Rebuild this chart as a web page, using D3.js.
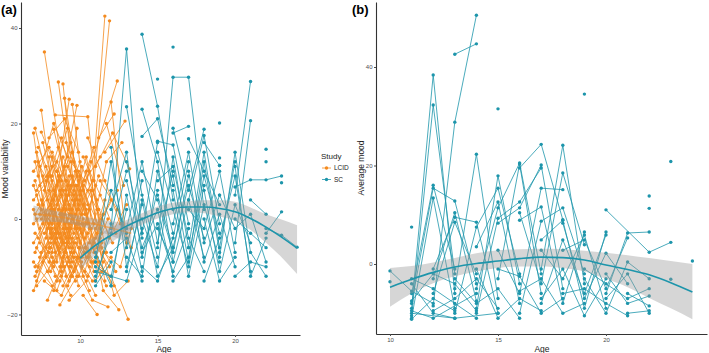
<!DOCTYPE html>
<html lang="en">
<head>
<meta charset="utf-8">
<title>mood by age</title>
<script src="https://cdn.jsdelivr.net/npm/d3@7"></script>
<style>
  body{margin:0;background:#fff;font-family:"Liberation Sans",Arial,sans-serif;}
  .tick text{fill:#4d4d4d;font-size:6px;}
  .tick line{stroke:#4d4d4d;}
  .domain{stroke:#333;stroke-width:1.1;}
</style>
</head>
<body>
<div id="chart"></div>
<script>
// ---- data: each track = one participant, [age, value] ----
var lcidTracks = [
  [[10.9,8],[11.9,41.5]], [[10.6,-2],[11.6,42.5]], [[7.7,35],[9.3,2]], [[8.6,28.7],[9.6,5]],
  [[8.9,28.3],[10.0,-6]], [[9.8,2],[12.4,28.9]], [[9.0,25.3],[10.2,0]], [[8.3,4],[9.3,25.1]],
  [[7.5,22.8],[8.6,-3]], [[9.5,24],[10.5,-1]], [[8.8,8],[9.8,23.8]], [[8.4,21.8],[10.5,21.4],[11.3,-4]],
  [[7.1,19],[8.2,4]], [[7.0,18],[8.0,-6]], [[7.5,18.2],[8.5,10],[9.6,-3]], [[8.3,18.8],[9.3,5]],
  [[7.2,14],[8.1,2],[9.2,-8]], [[7.3,12],[8.4,-2]], [[7.0,10],[8.0,15],[9.1,6]], [[7.1,8],[8.2,-4],[9.3,3]],
  [[7.4,7],[8.5,12]], [[7.2,5],[8.3,-9],[9.4,-2]], [[7.0,4],[8.1,9]], [[7.3,3],[8.2,-1],[9.2,11]],
  [[7.1,1],[8.0,6],[9.0,-5]], [[7.2,0],[8.4,-12]], [[7.0,-1],[8.1,3],[9.3,-6]], [[7.4,-2],[8.5,7],[9.5,14]],
  [[7.1,-3],[8.2,-8]], [[7.3,-4],[8.3,2],[9.4,-10]], [[7.0,-5],[8.0,1],[9.1,8]], [[7.2,-6],[8.1,-11],[9.2,0]],
  [[7.1,-7],[8.3,4]], [[7.4,-8],[8.4,-3],[9.6,6]], [[7.0,-9],[8.2,-14]], [[7.3,-10],[8.5,-4],[9.5,-12]],
  [[7.1,-12],[8.0,-7]], [[7.2,-14],[8.3,-9],[9.4,-16]], [[7.0,-15],[8.1,-5]], [[7.9,-17],[8.8,-10]],
  [[7.6,16],[8.7,1],[9.8,9]], [[7.8,11],[8.9,-5],[9.9,2]], [[7.7,6],[8.8,17],[9.9,3]], [[7.5,2],[8.6,-6],[9.7,-13]],
  [[7.6,-1],[8.7,9],[9.8,-2]], [[7.8,-4],[8.9,13],[10.0,5]], [[7.5,-7],[8.6,-1],[9.7,10]], [[7.9,-11],[9.0,-3],[10.1,-9]],
  [[7.7,-13],[8.8,-16],[9.9,-8]], [[8.0,13],[9.1,-4],[10.2,7]], [[8.2,9],[9.2,19],[10.3,1]], [[8.1,-2],[9.3,-9],[10.4,-1]],
  [[8.4,5],[9.5,0],[10.6,-10]], [[8.6,15],[9.6,3],[10.7,12]], [[8.5,-13],[9.6,-7],[10.6,-15]], [[8.8,1],[9.9,-12],[11.0,-4]],
  [[8.9,-8],[10.0,4],[11.1,-6]], [[9.0,11],[10.1,-3],[11.2,9]], [[9.1,16],[10.2,6],[11.3,-2]], [[9.2,-14],[10.3,-6],[11.4,-11]],
  [[9.4,7],[10.5,-8],[11.5,1]], [[9.5,-4],[10.6,10],[11.7,-7]], [[9.6,12],[10.7,-2]], [[9.7,-10],[10.8,-17],[11.8,-18.4]],
  [[9.8,4],[10.9,15]], [[9.9,-6],[11.0,-13],[12.0,-8]], [[10.0,9],[11.1,2],[12.1,-5]], [[10.1,-1],[11.2,-9],[12.2,-14]],
  [[10.2,13],[11.3,5],[12.3,-3]], [[10.3,-11],[11.4,0],[12.4,6]], [[10.4,2],[11.5,-15],[12.5,-19]], [[10.5,17],[11.6,8],[12.6,-1]],
  [[10.6,-5],[11.7,12],[12.7,16]], [[10.8,6],[11.9,-4],[13.0,3]], [[10.9,-9],[12.0,-12],[13.1,-21]], [[11.0,11],[12.1,18],[13.2,10.5]],
  [[11.1,-3],[12.2,-16],[13.1,-13]], [[11.3,8],[12.4,2],[13.3,-6]], [[11.5,-7],[12.6,-10],[13.3,-2]], [[11.6,14],[12.9,20.5]],
  [[11.7,20],[12.8,7]], [[12.0,24.5],[13.0,-5]], [[11.2,17],[12.2,22]], [[7.3,9],[8.3,20],[9.2,13]],
  [[8.0,17],[9.0,21],[9.9,14]], [[8.7,-18],[9.8,-12]], [[10.2,-16],[11.1,-20]], [[9.3,-17],[10.4,-13]],
  [[7.2,6],[8.2,11],[9.1,2]], [[7.4,-5],[8.3,-10],[9.3,-1]], [[7.6,3],[8.6,8],[9.6,-7]], [[7.8,8],[8.7,-7],[9.8,-4]],
  [[8.1,-4],[9.1,4],[10.0,12]], [[8.3,0],[9.4,-12],[10.5,-3]], [[8.5,3],[9.5,9],[10.4,-6]], [[8.7,-10],[9.7,1],[10.8,8]],
  [[8.9,6],[9.9,-1],[10.9,-11]], [[9.1,-7],[10.1,11],[11.1,4]], [[9.3,1],[10.3,-4],[11.2,2]], [[9.5,14],[10.5,3],[11.5,-9]],
  [[9.7,-2],[10.7,6],[11.6,-13]], [[9.9,8],[10.9,-7],[11.8,0]], [[10.1,-8],[11.0,-2],[12.0,4]], [[10.4,10],[11.4,-6],[12.3,-11]],
  [[7.1,12],[8.1,-3],[9.0,-10]], [[7.5,0],[8.4,5],[9.4,16]], [[7.9,4],[8.9,-2],[9.8,19]], [[8.2,-7],[9.2,7],[10.2,-12]],
  [[7.0,7],[7.9,-2],[8.8,5]], [[7.2,-11],[8.0,-1],[8.9,-9]], [[7.4,11],[8.3,6],[9.3,-4]], [[7.6,-9],[8.5,-15],[9.4,-7]],
  [[7.8,1],[8.7,-4],[9.7,4]], [[8.0,-9],[8.9,2],[9.9,-14]], [[8.2,14],[9.1,8],[10.1,1]], [[8.4,-5],[9.3,-13],[10.3,-7]],
  [[8.6,9],[9.5,-6],[10.5,6]], [[8.8,-12],[9.7,-5],[10.7,-9]], [[9.0,3],[9.9,10],[10.9,-1]], [[9.2,-2],[10.1,-10],[11.0,-16]],
  [[9.4,12],[10.3,8],[11.3,13]], [[9.6,-8],[10.5,-12],[11.4,-5]], [[9.8,-1],[10.8,-9],[11.7,-14]], [[10.0,6],[10.9,-5],[11.9,-10]],
  [[7.1,-10],[8.1,-6],[9.0,1]], [[7.3,15],[8.2,8],[9.1,-2]], [[7.5,4],[8.4,-7],[9.3,9]], [[7.7,-3],[8.6,2],[9.5,-9]],
  [[7.9,9],[8.8,-11],[9.8,7]], [[8.1,3],[9.0,-7],[10.0,-2]], [[8.3,-15],[9.2,-5],[10.2,3]], [[8.5,10],[9.4,1],[10.4,-8]],
  [[8.7,-3],[9.6,-11],[10.6,2]], [[8.9,-14],[9.8,-8],[10.8,-13]], [[9.1,5],[10.0,-5],[11.0,7]], [[9.3,-10],[10.2,-1],[11.1,-8]],
  [[9.5,2],[10.4,13],[11.4,-3]], [[9.7,7],[10.6,-7],[11.6,4]], [[7.0,2],[7.8,-8],[8.7,-13]], [[7.2,-13],[8.2,-2],[9.1,-12]],
  [[7.4,1],[8.2,13],[9.0,-1]], [[7.6,9],[8.5,-9],[9.5,4]], [[7.8,-6],[8.7,6],[9.6,-5]]
];

var scTracksA = [
  [[12,-2],[13,35.6],[14,-4]], [[14,38.7],[15,23.6],[16,4]], [[15,-6],[16,29.7],[17,29.7],[18,2]], [[16,36]],
  [[15,29.3]], [[20,5],[21,28.8]], [[20,-5],[21,20.6]], [[19,20.1]], [[19,12.8]], [[19,11.2]],
  [[22,14.6]], [[22,12]], [[20,6.7],[21,8.2],[22,8.2],[23,9]], [[23,7.6]], [[22,-3],[23,1.5]],
  [[22,-2],[23,-3.4],[24,-5.9]], [[13,23.5],[14,5],[15,-8]], [[14,23],[15,12],[16,-9]], [[14,17.3],[15,21],[16,7]],
  [[15,16.3],[16,15.5],[17,-1]], [[16,18],[17,19.4]], [[17,16.8],[18,10],[19,3]], [[16,19],[17,6],[18,18.8]],
  [[17,4],[18,17.5],[19,-1]], [[18,16],[19,11.2]],
  [[11,-8],[12,6],[13,-3]], [[11,-10],[12,-12],[13,2]], [[11,-12],[12,-3],[13,10]], [[11,-14],[12,-9]],
  [[11,-9],[12,12],[13,-6],[14,8]], [[11,-11],[13,-13],[14,-2]], [[12,15],[13,-10],[14,3]], [[12,-14],[13,5],[14,-11]],
  [[12,2],[13,14],[14,-8],[15,6]], [[13,-2],[14,12],[15,-5],[16,10]], [[13,8],[14,-6],[15,2],[16,-12]],
  [[13,-8],[14,-12],[15,10],[16,-3]], [[14,0],[15,-10],[16,13],[17,-6]], [[14,10],[15,4],[16,-7],[17,9]],
  [[14,-10],[15,-13],[16,-4],[17,12]], [[15,14],[16,2],[17,-10],[18,7]], [[15,-2],[16,-9],[17,4],[18,-8]],
  [[15,8],[16,11],[17,-4],[18,-11]], [[16,-1],[17,14],[18,-5],[19,5]], [[16,6],[17,-12],[18,3],[19,-9]],
  [[16,-13],[17,-8],[18,9],[19,-3]], [[17,2],[18,-2],[19,10],[20,-7]], [[17,-6],[18,14],[19,-6],[20,12]],
  [[17,10],[18,-9],[19,1],[20,-10]], [[18,6],[19,-11],[20,3],[21,-5]], [[18,-13],[19,-4],[20,9],[21,-11]],
  [[19,5],[20,-2],[21,1],[22,-9]], [[19,-8],[20,14],[21,-7],[22,-12]], [[20,0],[21,-3],[22,-6]],
  [[20,-12],[21,-9],[22,-10]], [[20,11],[21,-12],[22,-4]], [[21,4],[22,1]], [[13,-11],[14,4],[15,-12],[16,-6]],
  [[13,12],[14,-3],[15,16]], [[14,-7],[15,-1],[16,-11],[17,-2]], [[15,5],[16,-6],[17,7],[18,-4]],
  [[18,0],[19,-13],[20,-8]], [[16,9],[17,-9],[18,12],[19,-7]], [[12,-7],[13,-4],[14,-13]], [[11,-13],[12,-1]], [[11,-7],[12,-14]]
];

var scTracksB = [
  [[10,-1.4],[11,-5.5],[12,-8]], [[10,-3.6]], [[11,7.5]], [[11,-9],[12,38.4],[13,-6]], [[11,-10.5],[12,32.3],[13,-2]],
  [[13,42.6],[14,44.7]], [[12,-8.5],[13,28.8],[14,50.5]], [[13,-5],[14,22.3],[15,-7]], [[15,31.5]],
  [[14,-9],[15,17.9],[16,-4]], [[15,-3],[16,20.3],[17,-6]], [[16,19.5],[17,24.3],[18,9]], [[17,-1],[18,24.1],[19,-4]],
  [[19,34.5]], [[23,20.8]], [[20,11],[22,2.4],[23,4.4]], [[22,13.8]], [[22,11.3]], [[20,-6],[21,6.3],[22,6.5]],
  [[23,-3.1]], [[24,0.6]], [[11,-6],[12,16],[13,-1]], [[11,-8],[12,15.4],[13,12.8],[14,-4]], [[11,-11],[12,13.4],[13,-9]],
  [[12,-3],[13,10.4],[14,-7.5]], [[12,-1],[13,9.5],[14,8.5],[15,-10]], [[12,-6],[13,8.5],[14,-2]],
  [[13,-10],[14,7.5],[15,15.4],[16,-2]], [[14,3.5],[15,12.6],[16,-8]], [[14,-5],[15,11.4],[16,20.5],[17,-2]],
  [[14,-10],[15,9.3],[16,12.6],[17,19.5]], [[15,8.3],[16,11.4],[17,20.1],[18,-5]], [[15,2.8],[16,-6],[17,15.4],[18,15.1]],
  [[16,10.4],[17,-4],[18,18.5],[19,3.9]], [[16,8.9],[17,11.6],[18,-8],[19,6.5]], [[16,-10],[17,8.7],[18,11.4],[19,-2]],
  [[17,4.9],[18,8.9],[19,-9],[20,6.5]], [[17,2.8],[18,-3],[19,5.9],[20,-9]], [[17,-8],[18,4.9],[19,-6],[20,5.9]],
  [[18,2.8],[19,4.9],[20,-5],[21,5.3]], [[18,8.3],[19,-7],[20,2.2],[21,-4]], [[19,-3],[20,-10],[21,0.4],[22,-3]],
  [[20,-2],[21,-8],[22,-6.5]], [[20,-7],[21,-2],[22,-10]], [[21,-6],[22,-8.5]], [[21,-10],[22,-9.5]],
  [[11,-4],[12,-10],[13,-11]], [[11,-3],[12,-5],[13,-8],[14,-11]], [[11,-7.5],[12,-2],[13,-4],[14,-9.5]],
  [[11,-9.5],[12,-11],[14,-6]], [[12,-9.5],[13,-7],[14,-3],[15,-9]], [[13,-3],[14,-8],[15,-5],[16,-11]],
  [[14,-1],[15,-11],[16,-7],[17,-9.5]], [[15,-1],[16,-2.5],[17,-10],[18,-7]], [[16,-5.5],[17,-3],[18,-10],[19,-8]],
  [[17,-7],[18,-1],[19,-10.5],[20,-3]], [[18,-6],[19,-5],[20,-8],[21,-10.5]], [[19,-1],[20,-4],[21,-7],[22,-5]],
  [[11,-11.2],[12,-7],[13,-9.5]], [[11,-10],[13,-11],[15,-10]]
];

// smoothed fits (curve + band)
var lcidFitAge = [7.0, 8, 9, 10, 11, 12, 13.3];
var lcidFit    = [1.1, 0.7, 0.25, -0.4, -1.1, -1.9, -3.0];
var lcidLo     = [-0.6, -0.6, -0.8, -1.5, -2.4, -3.5, -5.2];
var lcidHi     = [2.8, 2.0, 1.3, 0.6, 0.0, -0.5, -0.8];

var fitAges = [10, 11, 12, 13, 14, 15, 16, 17, 18, 19, 20, 21, 22, 23, 24];
var scFitA  = [-8.2, -5.5, -3.4, -1.5, 0, 1.3, 2.2, 2.5, 2.5, 2.2, 1.5, 0.1, -1.7, -3.8, -6.1];
var scLoA   = [-10.8, -7.5, -5, -2.8, -1.2, 0.1, 1, 1.4, 1.2, 0.5, -0.4, -2.3, -5, -8, -11.5];
var scHiA   = [-5.8, -3.6, -1.8, -0.2, 1.2, 2.6, 3.4, 3.7, 3.9, 3.9, 3.6, 2.4, 1, -0.1, -1.3];
var scFitB  = [-4.7, -3.1, -1.7, -0.6, 0.1, 0.6, 1.1, 1.4, 1.3, 0.8, -0.2, -1.1, -2.2, -3.8, -5.7];
var scLoB   = [-8.7, -6, -3.9, -2.5, -1.5, -0.8, -0.5, -0.5, -0.8, -1.5, -3, -4.7, -6.9, -9, -11.2];
var scHiB   = [-0.8, -0.4, 0.3, 1.2, 2.2, 2.8, 3, 3.1, 3, 2.7, 2.3, 1.8, 1.2, 0.6, 0];

var studies = ["LCID", "SC"];
var colors = {LCID: "#F48A1E", SC: "#1D95AB"};

var svg = d3.select("#chart").append("svg").attr("width", 709).attr("height", 353);

function drawTracks(g, tracks, x, y, color) {
  var line = d3.line().x(function(d){ return x(d[0]); }).y(function(d){ return y(d[1]); });
  g.append("g").selectAll("path").data(tracks.filter(function(t){ return t.length > 1; }))
    .join("path").attr("d", line)
    .attr("fill", "none").attr("stroke", color).attr("stroke-width", 0.8);
  g.append("g").selectAll("circle").data(tracks.flat())
    .join("circle")
    .attr("cx", function(d){ return x(d[0]); })
    .attr("cy", function(d){ return y(d[1]); })
    .attr("r", 1.7).attr("fill", color);
}

function drawFit(g, ages, fit, lo, hi, x, y, color, lineOpacity) {
  var area = d3.area().curve(d3.curveMonotoneX)
    .x(function(d, i){ return x(ages[i]); })
    .y0(function(d, i){ return y(lo[i]); })
    .y1(function(d, i){ return y(hi[i]); });
  g.append("path").attr("d", area(ages)).attr("fill", "#999").attr("opacity", 0.4);
  var line = d3.line().curve(d3.curveMonotoneX)
    .x(function(d, i){ return x(ages[i]); })
    .y(function(d){ return y(d); });
  g.append("path").attr("d", line(fit)).attr("fill", "none")
    .attr("stroke", color).attr("stroke-width", 1.6).attr("stroke-opacity", lineOpacity);
}

function axes(g, x, y, xTicks, yTicks) {
  g.append("g").attr("transform", "translate(0," + y.range()[0] + ")")
    .call(d3.axisBottom(x).tickValues(xTicks).tickSize(2).tickSizeOuter(0).tickPadding(1.5));
  g.append("g").attr("transform", "translate(" + x.range()[0] + ",0)")
    .call(d3.axisLeft(y).tickValues(yTicks).tickSize(2).tickSizeOuter(0).tickPadding(1.5));
}

// ---- panel (a) ----
var xa = d3.scaleLinear().domain([6.19, 24.19]).range([21, 300]);
var ya = d3.scaleLinear().domain([-24.3, 45.45]).range([335, 2]);
var ga = svg.append("g");
drawTracks(ga, lcidTracks, xa, ya, colors.LCID);
drawTracks(ga, scTracksA, xa, ya, colors.SC);
drawFit(ga, lcidFitAge, lcidFit, lcidLo, lcidHi, xa, ya, colors.LCID, 0.55);
drawFit(ga, fitAges, scFitA, scLoA, scHiA, xa, ya, colors.SC, 1);
axes(ga, xa, ya, [10, 15, 20], [-20, 0, 20, 40]);

// ---- panel (b) ----
var xb = d3.scaleLinear().domain([9.352, 24.676]).range([376, 707]);
var yb = d3.scaleLinear().domain([-14.21, 53.2]).range([334, 2]);
var gb = svg.append("g");
drawTracks(gb, scTracksB, xb, yb, colors.SC);
drawFit(gb, fitAges, scFitB, scLoB, scHiB, xb, yb, colors.SC, 1);
axes(gb, xb, yb, [10, 15, 20], [0, 20, 40]);

// ---- titles and labels ----
svg.append("text").attr("x", 1).attr("y", 14).attr("font-size", 13).attr("font-weight", "bold").text("(a)");
svg.append("text").attr("x", 352).attr("y", 14).attr("font-size", 13).attr("font-weight", "bold").text("(b)");
svg.append("text").attr("x", 164).attr("y", 352).attr("text-anchor", "middle").attr("font-size", 8.5).attr("fill", "#222").text("Age");
svg.append("text").attr("x", 542).attr("y", 352).attr("text-anchor", "middle").attr("font-size", 8.5).attr("fill", "#222").text("Age");
svg.append("text").attr("transform", "translate(8,169) rotate(-90)").attr("text-anchor", "middle")
  .attr("font-size", 8.5).attr("fill", "#222").text("Mood variability");
svg.append("text").attr("transform", "translate(364,168) rotate(-90)").attr("text-anchor", "middle")
  .attr("font-size", 8.5).attr("fill", "#222").text("Average mood");

// ---- legend ----
var lg = svg.append("g").attr("transform", "translate(321,0)");
lg.append("text").attr("x", 0).attr("y", 158.5).attr("font-size", 8).attr("fill", "#222").text("Study");
studies.forEach(function(s, i) {
  var yy = 168 + i * 11.5;
  lg.append("line").attr("x1", 1).attr("x2", 10).attr("y1", yy).attr("y2", yy)
    .attr("stroke", colors[s]).attr("stroke-width", 0.8);
  lg.append("circle").attr("cx", 5.5).attr("cy", yy).attr("r", 1.7).attr("fill", colors[s]);
  lg.append("text").attr("x", 13).attr("y", yy + 2.3).attr("font-size", 6.5).attr("fill", "#222").text(s);
});
</script>
</body>
</html>
